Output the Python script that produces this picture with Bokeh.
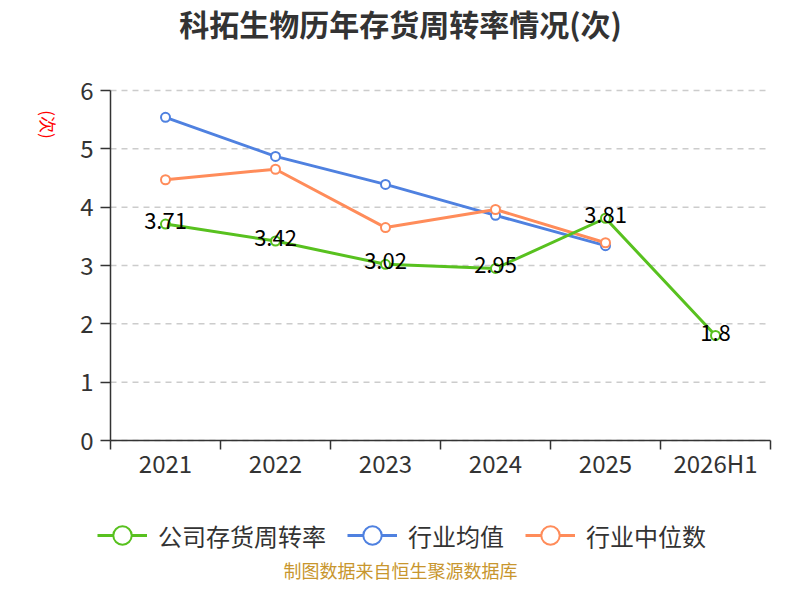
from bokeh.plotting import figure
from bokeh.models import Range1d, FixedTicker, Legend, LegendItem, ColumnDataSource, Label
from bokeh.core.properties import value
from bokeh.embed import file_html
from bokeh.resources import INLINE
import math

categories = ["2021", "2022", "2023", "2024", "2025", "2026H1"]
company = [3.71, 3.42, 3.02, 2.95, 3.81, 1.8]
industry_mean = [5.54, 4.87, 4.39, 3.86, 3.34]
industry_median = [4.47, 4.65, 3.65, 3.96, 3.39]
y_ticks = [0, 1, 2, 3, 4, 5, 6]

FONT = "Noto Sans CJK SC"
GREEN = "#58c11f"
BLUE = "#4f81e0"
ORANGE = "#ff8c5a"

# canvas / plot box (pixels)
W, H = 784, 584
BOX_L, BOX_R, BOX_T, BOX_B = 110, 770, 90, 440
n = len(categories)
ymax = y_ticks[-1]
xpp = n / (BOX_R - BOX_L)
ypp = ymax / (BOX_B - BOX_T)

xs = [i + 0.5 for i in range(n)]

p = figure(width=W, height=H, output_backend="svg", toolbar_location=None,
           x_range=Range1d(-BOX_L * xpp, n + (W - BOX_R) * xpp),
           y_range=Range1d(-(H - BOX_B) * ypp, ymax + BOX_T * ypp),
           min_border_left=0, min_border_right=0, min_border_top=0, min_border_bottom=0)
p.outline_line_color = None
p.title.visible = False
p.xgrid.visible = False
p.ygrid.visible = False

# axes placed at the data origin
p.xaxis.fixed_location = 0
p.xaxis.bounds = (0, n)
p.xaxis.ticker = FixedTicker(ticks=xs, minor_ticks=list(range(n + 1)))
p.xaxis.major_label_overrides = {x: c for x, c in zip(xs, categories)}
p.xaxis.major_tick_line_color = None
p.xaxis.major_tick_out = 0
p.xaxis.major_tick_in = 0
p.xaxis.minor_tick_out = 9
p.xaxis.minor_tick_in = 0
p.xaxis.minor_tick_line_color = "#333333"
p.xaxis.minor_tick_line_width = 1.5
p.xaxis.axis_line_color = "#333333"
p.xaxis.axis_line_width = 1.5
p.xaxis.major_label_text_font = FONT
p.xaxis.major_label_text_font_size = "24px"
p.xaxis.major_label_text_color = "#333333"
p.xaxis.major_label_standoff = -5

p.yaxis.fixed_location = 0
p.yaxis.bounds = (0, ymax)
p.yaxis.ticker = FixedTicker(ticks=y_ticks)
p.yaxis.major_tick_out = 10
p.yaxis.major_tick_in = 0
p.yaxis.minor_tick_line_color = None
p.yaxis.major_tick_line_color = "#333333"
p.yaxis.major_tick_line_width = 1.5
p.yaxis.axis_line_color = "#333333"
p.yaxis.axis_line_width = 1.5
p.yaxis.major_label_text_font = FONT
p.yaxis.major_label_text_font_size = "24px"
p.yaxis.major_label_text_color = "#333333"
p.yaxis.major_label_standoff = 7

# dashed horizontal grid over the plot box
p.segment(x0=0, x1=n, y0=y_ticks, y1=y_ticks, line_color="#cccccc", line_width=1.5, line_dash="6 5")

# series
src_c = ColumnDataSource(dict(x=xs, y=company, t=[str(v) for v in company]))
src_m = ColumnDataSource(dict(x=xs[:len(industry_mean)], y=industry_mean))
src_d = ColumnDataSource(dict(x=xs[:len(industry_median)], y=industry_median))

lm = p.line("x", "y", source=src_m, line_color=BLUE, line_width=3)
sm = p.scatter("x", "y", source=src_m, size=9, fill_color="white", line_color=BLUE, line_width=2)
ld = p.line("x", "y", source=src_d, line_color=ORANGE, line_width=3)
sd = p.scatter("x", "y", source=src_d, size=9, fill_color="white", line_color=ORANGE, line_width=2)
lc = p.line("x", "y", source=src_c, line_color=GREEN, line_width=3)
sc = p.scatter("x", "y", source=src_c, size=9, fill_color="white", line_color=GREEN, line_width=2)
p.text("x", "y", text="t", source=src_c, text_font=value(FONT), text_font_size="22px",
       text_color="#000000", text_align="center", text_baseline="middle", y_offset=-3)

# legend
items = [LegendItem(label="公司存货周转率", renderers=[lc, sc]),
         LegendItem(label="行业均值", renderers=[lm, sm]),
         LegendItem(label="行业中位数", renderers=[ld, sd])]
legend = Legend(items=items, orientation="horizontal", location=(97, 26),
                glyph_width=50, glyph_height=46, label_standoff=11, spacing=21,
                padding=0, margin=0, border_line_color=None, background_fill_alpha=0,
                label_text_font=FONT, label_text_font_size="24px", label_text_color="#333333")
p.add_layout(legend, "center")

# title, unit name, footer
p.add_layout(Label(x=400, y=H - 22, x_units="screen", y_units="screen", text="科拓生物历年存货周转率情况(次)",
                   text_font=FONT, text_font_size="30px", text_font_style="bold", text_color="#333333",
                   text_align="center", text_baseline="middle"))
p.add_layout(Label(x=48, y=H - 124, x_units="screen", y_units="screen", text="(次)", angle=-math.pi / 2,
                   text_font=FONT, text_font_size="17px", text_color="#ff0000",
                   text_align="center", text_baseline="middle"))
p.add_layout(Label(x=400, y=15, x_units="screen", y_units="screen", text="制图数据来自恒生聚源数据库",
                   text_font=FONT, text_font_size="18px", text_color="#c8962e",
                   text_align="center", text_baseline="middle"))

open("out.html", "w").write(file_html(p, INLINE))
